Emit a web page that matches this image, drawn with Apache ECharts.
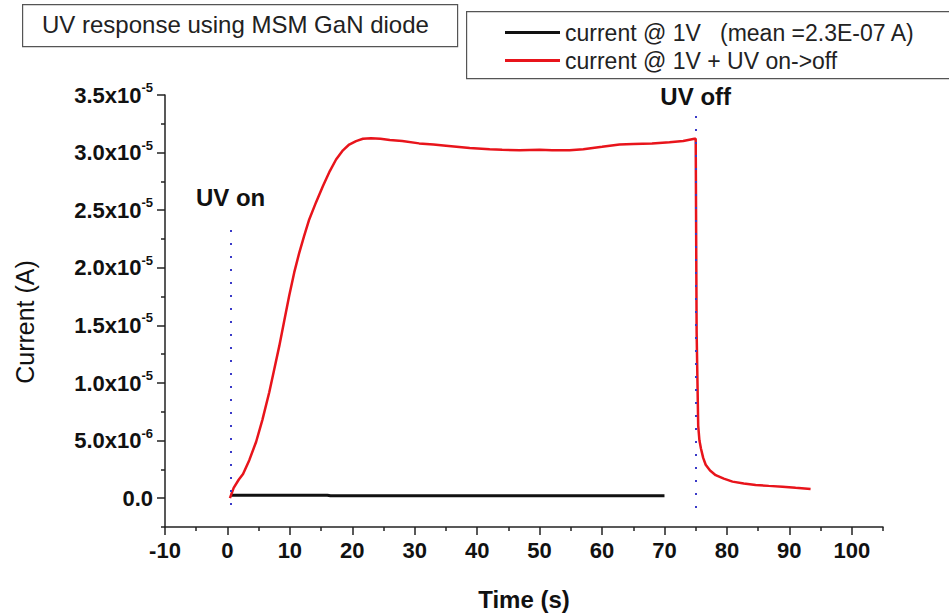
<!DOCTYPE html>
<html>
<head>
<meta charset="utf-8">
<script src="https://cdn.jsdelivr.net/npm/echarts@6/dist/echarts.min.js"></script>
<style>
  html, body { margin: 0; padding: 0; background: #fff; }
  #chart { width: 949px; height: 616px; }
</style>
</head>
<body>
<div id="chart"></div>
<script>
// Dark current at 1 V (no illumination)
const darkTime = [0.5, 16.0, 16.5, 70.0];
const darkCurrent = [2.6e-7, 2.6e-7, 2.1e-7, 2.1e-7];

// Current at 1 V with UV switched on at t = 0.5 s and off at t = 75 s
const uvTime = [
  0.4, 1.0, 1.8, 2.5, 3.5, 4.6, 5.6, 6.7, 7.5, 8.3, 9.1, 9.9, 10.7, 11.5, 12.3,
  13.1, 14.2, 15.3, 16.4, 17.4, 18.5, 19.5, 20.6, 21.7, 23.0, 24.5, 26.0, 28.0,
  30.7, 33.0, 35.0, 38.8, 42.0, 44.0, 46.8, 50.0, 52.0, 54.8, 57.0, 60.0, 62.8,
  65.0, 68.0, 70.8, 73.0, 74.8, 75.0, 75.15, 75.4, 75.6, 75.85, 76.2, 76.6,
  77.3, 78.2, 79.5, 80.9, 82.7, 84.6, 86.7, 88.9, 91.0, 93.4
];
const uvCurrent = [
  0.0, 0.9e-6, 1.6e-6, 2.1e-6, 3.3e-6, 4.9e-6, 6.8e-6, 9.2e-6, 1.12e-5, 1.32e-5,
  1.54e-5, 1.76e-5, 1.96e-5, 2.13e-5, 2.28e-5, 2.42e-5, 2.57e-5, 2.71e-5, 2.84e-5,
  2.94e-5, 3.02e-5, 3.07e-5, 3.10e-5, 3.12e-5, 3.125e-5, 3.12e-5, 3.11e-5, 3.10e-5,
  3.08e-5, 3.07e-5, 3.06e-5, 3.04e-5, 3.03e-5, 3.025e-5, 3.02e-5, 3.025e-5, 3.02e-5,
  3.02e-5, 3.03e-5, 3.05e-5, 3.07e-5, 3.075e-5, 3.08e-5, 3.09e-5, 3.10e-5, 3.12e-5,
  3.12e-5, 1.44e-5, 6.3e-6, 5.0e-6, 4.3e-6, 3.5e-6, 2.9e-6, 2.4e-6, 2.0e-6, 1.7e-6,
  1.44e-6, 1.28e-6, 1.15e-6, 1.07e-6, 1.0e-6, 0.9e-6, 0.8e-6
];

// UV switching markers: [time, bottom current, top current]
const uvOnMarker = [0.5, -6e-7, 2.42e-5];
const uvOffMarker = [75.0, -8.6e-7, 3.33e-5];

// Axis ticks and labels
const xLabelTicks = [-10, 0, 10, 20, 30, 40, 50, 60, 70, 80, 90, 100];
const xMinorTicks = [-5, 5, 15, 25, 35, 45, 55, 65, 75, 85, 95, 105];
const yLabelTicks = [0, 5e-6, 1e-5, 1.5e-5, 2e-5, 2.5e-5, 3e-5, 3.5e-5];
const yMinorTicks = [-2.5e-6, 2.5e-6, 7.5e-6, 1.25e-5, 1.75e-5, 2.25e-5, 2.75e-5, 3.25e-5];

const seriesNames = ['current @ 1V\u00a0\u00a0\u00a0(mean =2.3E-07 A)', 'current @ 1V + UV on->off'];
const titleText = 'UV response using MSM GaN diode';

const FONT = '"Liberation Sans", Arial, Helvetica, sans-serif';

function zip(xs, ys) { return xs.map((x, i) => [x, ys[i]]); }

// Tick text in the form 3.5x10^-5 with a raised exponent
function sciLabel(v) {
  if (Math.abs(v) < 1e-12) return '0.0';
  const e = Math.floor(Math.log10(v) + 1e-9);
  const m = v / Math.pow(10, e);
  return m.toFixed(1) + 'x10{sup|' + e + '}';
}

const chart = echarts.init(document.getElementById('chart'), null, { renderer: 'svg' });

const xMin = -10, xMax = 105, yMin = -2.5e-6, yMax = 3.5e-5;

const option = {
  animation: false,
  backgroundColor: '#ffffff',
  textStyle: { fontFamily: FONT },
  grid: { left: 165, top: 95, right: 66, bottom: 87, containLabel: false },
  graphic: [
    {
      type: 'rect', left: 22, top: 4,
      shape: { width: 435, height: 42 },
      style: { fill: '#fff', stroke: '#555', lineWidth: 1.2 }
    },
    {
      type: 'text', left: 42, top: 12,
      style: { text: titleText, font: '24px ' + FONT, fill: '#222' }
    },
    {
      type: 'rect', left: 466, top: 11,
      shape: { width: 500, height: 67 },
      style: { fill: '#fff', stroke: '#555', lineWidth: 1.2 }
    }
  ],
  legend: {
    left: 500, top: 16, orient: 'vertical',
    itemWidth: 55, itemHeight: 3, itemGap: 5,
    icon: 'rect',
    textStyle: { fontSize: 23, color: '#222', fontFamily: FONT },
    data: seriesNames,
    selectedMode: false
  },
  xAxis: [
    {
      type: 'value', min: xMin, max: xMax,
      name: 'Time (s)', nameLocation: 'middle', nameGap: 60,
      nameTextStyle: { fontSize: 24, fontWeight: 'bold', color: '#111', fontFamily: FONT },
      axisLine: { show: true, onZero: false, lineStyle: { color: '#222', width: 1.5 } },
      axisTick: { show: true, length: 8, customValues: xLabelTicks, lineStyle: { color: '#222', width: 1.5 } },
      axisLabel: { customValues: xLabelTicks, margin: 12, fontSize: 22, fontWeight: 'bold', color: '#111', fontFamily: FONT, showMaxLabel: true, showMinLabel: true },
      splitLine: { show: false }
    },
    {
      type: 'value', min: xMin, max: xMax, position: 'bottom',
      axisLine: { show: false, onZero: false },
      axisTick: { show: true, length: 4, customValues: xMinorTicks, lineStyle: { color: '#222', width: 1.5 } },
      axisLabel: { show: false },
      splitLine: { show: false }
    }
  ],
  yAxis: [
    {
      type: 'value', min: yMin, max: yMax,
      name: 'Current (A)', nameLocation: 'middle', nameGap: 128, nameRotate: 90,
      nameTextStyle: { fontSize: 25, color: '#111', fontFamily: FONT, padding: [0, 0, 0, -22] },
      axisLine: { show: true, onZero: false, lineStyle: { color: '#222', width: 1.5 } },
      axisTick: { show: true, length: 8, customValues: yLabelTicks, lineStyle: { color: '#222', width: 1.5 } },
      axisLabel: {
        customValues: yLabelTicks, margin: 12,
        fontSize: 22, fontWeight: 'bold', color: '#111', fontFamily: FONT,
        formatter: sciLabel,
        rich: {
          sup: { fontSize: 13, fontWeight: 'bold', color: '#111', fontFamily: FONT, padding: [0, 0, 15, 0] }
        }
      },
      splitLine: { show: false }
    },
    {
      type: 'value', min: yMin, max: yMax, position: 'left',
      axisLine: { show: false, onZero: false },
      axisTick: { show: true, length: 4, customValues: yMinorTicks, lineStyle: { color: '#222', width: 1.5 } },
      axisLabel: { show: false },
      splitLine: { show: false }
    }
  ],
  series: [
    {
      name: seriesNames[0], type: 'line',
      data: zip(darkTime, darkCurrent),
      showSymbol: false, symbol: 'none',
      lineStyle: { color: '#111', width: 3 },
      itemStyle: { color: '#111' },
      z: 3
    },
    {
      name: seriesNames[1], type: 'line',
      data: zip(uvTime, uvCurrent),
      showSymbol: false, symbol: 'none',
      lineStyle: { color: '#e8141b', width: 2.5 },
      itemStyle: { color: '#e8141b' },
      z: 4,
      markLine: {
        silent: true, symbol: 'none',
        lineStyle: { color: '#3a3ac8', width: 2, type: [2, 11], cap: 'butt' },
        label: {
          show: true, position: 'end', distance: 8,
          fontSize: 24, fontWeight: 'bold', color: '#111', fontFamily: FONT
        },
        data: [
          [
            { coord: [uvOnMarker[0], uvOnMarker[1]] },
            { coord: [uvOnMarker[0], uvOnMarker[2]], label: { formatter: 'UV on', distance: 10 } }
          ],
          [
            { coord: [uvOffMarker[0], uvOffMarker[1]] },
            { coord: [uvOffMarker[0], uvOffMarker[2]], label: { formatter: 'UV off', distance: 6 } }
          ]
        ]
      }
    }
  ]
};

chart.setOption(option);
</script>
</body>
</html>
